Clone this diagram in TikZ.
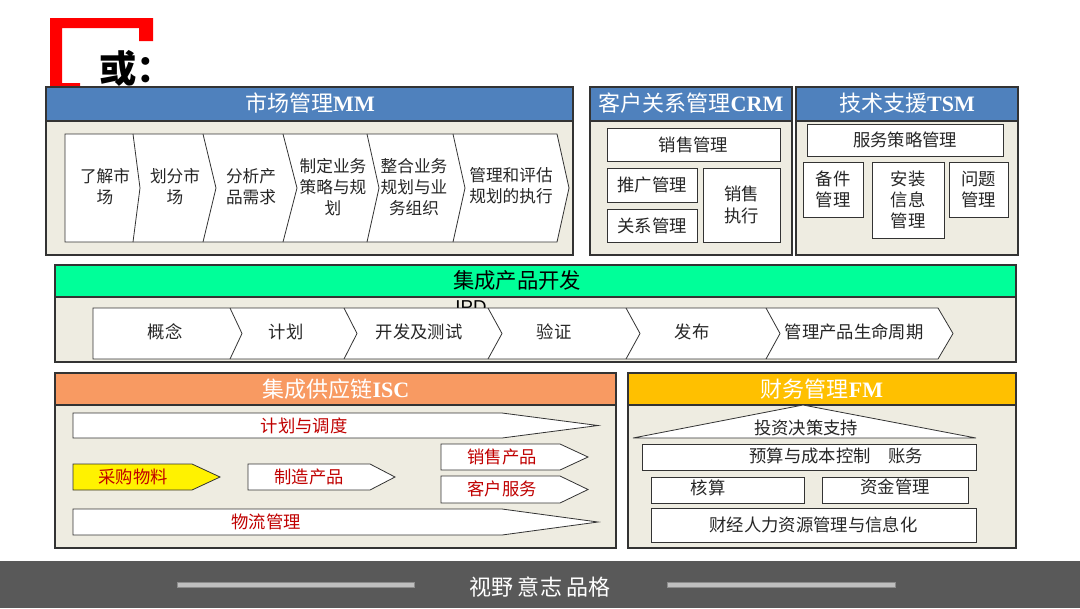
\documentclass[tikz,border=0pt]{standalone}
\usepackage{fontspec}
\setmainfont{Noto Sans CJK SC}
\newfontfamily\latf{Liberation Serif}
\newfontfamily\sansf{Liberation Sans}
\usetikzlibrary{calc}
\definecolor{bodybg}{HTML}{EEECE1}
\definecolor{bluehd}{HTML}{4F81BD}
\definecolor{greenhd}{HTML}{00FF99}
\definecolor{orangehd}{HTML}{F89A62}
\definecolor{goldhd}{HTML}{FFC000}
\definecolor{txtred}{HTML}{C00000}
\definecolor{footbg}{HTML}{595959}
\definecolor{lineg}{HTML}{BFBFBF}
\definecolor{edge}{HTML}{333333}
\definecolor{redmark}{HTML}{FF0000}
\newcommand\pbox[6]{\draw[#1] #3 rectangle #4; \node[#5] (#2) at ($#3!0.5!#4$) {#6};}
\begin{document}
\begin{tikzpicture}[x=0.75pt,y=-0.75pt,
  hdr/.style={draw=edge, line width=0.8pt},
  bodyp/.style={draw=edge, fill=bodybg, line width=0.8pt},
  wbox/.style={draw=edge, fill=white, line width=0.6pt},
  htext/.style={text=white, font=\fontsize{16.5}{19}\selectfont, inner sep=0pt},
  ctext/.style={font=\fontsize{12.5}{15.75}\selectfont, align=center, inner sep=0pt, text=black!85},
  btext/.style={font=\fontsize{13}{16}\selectfont, align=center, inner sep=0pt, text=black!85},
  rtext/.style={font=\fontsize{13}{16}\selectfont, inner sep=0pt, text=txtred}]
\useasboundingbox (0,0) rectangle (1080,608);
\fill[white] (0,0) rectangle (1080,608);

% red bracket and title
\fill[redmark] (50,18) -- (153,18) -- (153,41) -- (139,41) -- (139,28) -- (62,28) -- (62,83) -- (80,83) -- (80,90) -- (50,90) -- cycle;
\node[anchor=west, font=\fontsize{28}{30}\selectfont\bfseries, inner sep=0pt] (huo) at (99,68) {或：};

% ===== MM =====
\draw[bodyp] (46,121) rectangle (573,255);
\draw[hdr, fill=bluehd] (46,87) rectangle (573,121);
\node[htext] (mmh) at (310,103) {市场管理{\latf\bfseries MM}};
\filldraw[wbox] (65,134) -- (557,134) -- (569,188) -- (557,242) -- (65,242) -- cycle;
\foreach \a/\b in {133/140, 203/216, 283/297, 367/379, 453/465}
  \draw[edge, line width=0.6pt] (\a,134) -- (\b,188) -- (\a,242);
\node[ctext] (mm1) at (105,187) {了解市\\场};
\node[ctext] (mm2) at (175,187) {划分市\\场};
\node[ctext] (mm3) at (251,187) {分析产\\品需求};
\node[ctext] (mm4) at (333,187) {制定业务\\策略与规\\划};
\node[ctext] (mm5) at (414,187) {整合业务\\规划与业\\务组织};
\node[ctext] (mm6) at (511,186) {管理和评估\\规划的执行};

% ===== CRM =====
\draw[bodyp] (590,121) rectangle (792,255);
\draw[hdr, fill=bluehd] (590,87) rectangle (792,121);
\node[htext] (crmh) at (691,103) {客户关系管理{\latf\bfseries CRM}};
\pbox{wbox}{sm}{(607,128)}{(780,161)}{btext}{销售管理}
\pbox{wbox}{tg}{(607,168)}{(697,202)}{btext}{推广管理}
\pbox{wbox}{gx}{(607,209)}{(697,242)}{btext}{关系管理}
\pbox{wbox}{zx}{(703,168)}{(780,242)}{btext}{销售\\执行}

% ===== TSM =====
\draw[bodyp] (796,121) rectangle (1018,255);
\draw[hdr, fill=bluehd] (796,87) rectangle (1018,121);
\node[htext] (tsmh) at (907,103) {技术支援{\latf\bfseries TSM}};
\pbox{wbox}{fw}{(807,124)}{(1003,156)}{btext}{服务策略管理}
\pbox{wbox}{bj}{(803,162)}{(863,217)}{btext}{备件\\管理}
\pbox{wbox}{az}{(872,162)}{(944,238)}{btext}{安装\\信息\\管理}
\pbox{wbox}{wt}{(949,162)}{(1008,217)}{btext}{问题\\管理}

% ===== IPD =====
\draw[bodyp] (55,297) rectangle (1016,362);
\draw[hdr, fill=greenhd] (55,265) rectangle (1016,297);
\node[font=\fontsize{16}{19}\selectfont, inner sep=0pt] (ipdh) at (517,280) {集成产品开发};
\node[anchor=base, font=\sansf\fontsize{14}{16}\selectfont, inner sep=0pt] (ipdl) at (471,313) {IPD};
\filldraw[wbox] (93,308) -- (938,308) -- (953,333.5) -- (938,359) -- (93,359) -- cycle;
\foreach \a/\b in {230/242, 344/357, 488/502, 626/640, 766/780}
  \draw[edge, line width=0.6pt] (\a,308) -- (\b,333.5) -- (\a,359);
\node[btext] (p1) at (165,332) {概念};
\node[btext] (p2) at (286,332) {计划};
\node[btext] (p3) at (419,332) {开发及测试};
\node[btext] (p4) at (554,332) {验证};
\node[btext] (p5) at (692,332) {发布};
\node[btext] (p6) at (854,332) {管理产品生命周期};

% ===== ISC =====
\draw[bodyp] (55,405) rectangle (616,548);
\draw[hdr, fill=orangehd] (55,373) rectangle (616,405);
\node[htext] (isch) at (336,389) {集成供应链{\latf\bfseries ISC}};
\filldraw[wbox] (73,413) -- (502,413) -- (598,425.5) -- (502,438) -- (73,438) -- cycle;
\node[rtext] (jh) at (304,426) {计划与调度};
\filldraw[wbox, fill=yellow] (73,464) -- (192,464) -- (220,477) -- (192,490) -- (73,490) -- cycle;
\node[rtext] (cg) at (133,477) {采购物料};
\filldraw[wbox] (248,464) -- (370,464) -- (395,477) -- (370,490) -- (248,490) -- cycle;
\node[rtext] (zz) at (309,477) {制造产品};
\filldraw[wbox] (441,444) -- (560,444) -- (588,457) -- (560,470) -- (441,470) -- cycle;
\node[rtext] (xs) at (502,457) {销售产品};
\filldraw[wbox] (441,476) -- (560,476) -- (588,489.5) -- (560,503) -- (441,503) -- cycle;
\node[rtext] (kf) at (502,489) {客户服务};
\filldraw[wbox] (73,509) -- (502,509) -- (598,522) -- (502,535) -- (73,535) -- cycle;
\node[rtext] (wl) at (266,522) {物流管理};

% ===== FM =====
\draw[bodyp] (628,405) rectangle (1016,548);
\draw[hdr, fill=goldhd] (628,373) rectangle (1016,405);
\node[htext] (fmh) at (822,389) {财务管理{\latf\bfseries FM}};
\filldraw[wbox] (633,438) -- (803,405) -- (976,438) -- cycle;
\node[btext] (tz) at (806,428) {投资决策支持};
\draw[wbox] (642,444) rectangle (976,470);
\node[btext] (ys) at (836,456) {预算与成本控制\quad 账务};
\draw[wbox] (651,477) rectangle (804,503);
\node[btext] (hs) at (708,488) {核算};
\draw[wbox] (822,477) rectangle (968,503);
\node[btext] (zj) at (895,487) {资金管理};
\pbox{wbox}{cj}{(651,508)}{(976,542)}{btext}{财经人力资源管理与信息化}

% ===== footer =====
\fill[footbg] (0,561) rectangle (1080,608);
\filldraw[fill=lineg, draw=black!45, line width=0.4pt] (177,582) rectangle (414,587);
\filldraw[fill=lineg, draw=black!45, line width=0.4pt] (667,582) rectangle (895,587);
\node[text=white, font=\fontsize{16.5}{19}\selectfont, inner sep=0pt] (ft) at (540,587) {视野 意志 品格};
\end{tikzpicture}
\end{document}
